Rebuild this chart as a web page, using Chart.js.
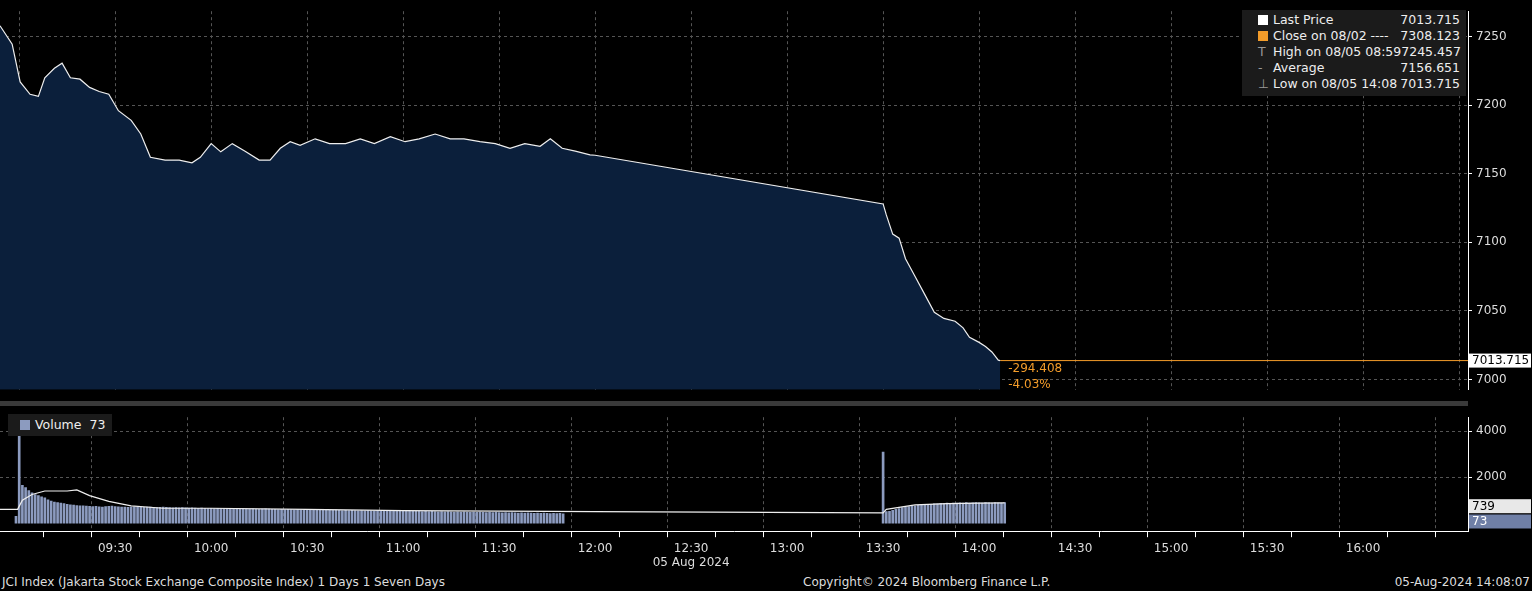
<!DOCTYPE html>
<html><head><meta charset="utf-8">
<script src="https://cdn.jsdelivr.net/npm/chart.js@4.4.1/dist/chart.umd.min.js"></script>
<style>
body{margin:0;background:#000;width:1532px;height:591px;overflow:hidden;font-family:"DejaVu Sans",sans-serif;color:#ddd}
#c1{position:absolute;left:0;top:0}
#c2{position:absolute;left:0;top:406px}
#sep{position:absolute;left:0;top:401px;width:1468px;height:5px;background:#3a3a3a}
.leg{position:absolute;background:#1b1b1b;font-size:12.5px;line-height:16px;color:#eee}
.row{display:flex;justify-content:space-between;white-space:nowrap;padding-right:6px}
.foot{position:absolute;top:575px;font-size:12px;color:#ddd;white-space:nowrap}
.sw{display:inline-block;width:10px;height:10px;margin-right:5px;vertical-align:-1px}
.ic{display:inline-block;width:15px;color:#999}
</style></head><body>
<canvas id="c1" width="1532" height="401"></canvas>
<div id="sep"></div>
<canvas id="c2" width="1532" height="168"></canvas>
<div class="leg" style="left:1242px;top:10px;width:224px;height:86px;padding:2px 0 0 16px;box-sizing:border-box">
<div class="row"><span><span class="sw" style="background:#fff"></span>Last Price</span><span>7013.715</span></div>
<div class="row"><span><span class="sw" style="background:#f39c2a"></span>Close on 08/02 ----</span><span>7308.123</span></div>
<div class="row"><span><span class="ic">T</span>High on 08/05 08:59</span><span>7245.457</span></div>
<div class="row"><span><span class="ic">-</span>Average</span><span>7156.651</span></div>
<div class="row"><span><span class="ic">⊥</span>Low on 08/05 14:08</span><span>7013.715</span></div>
</div>
<div class="leg" style="left:8px;top:414px;width:104px;height:22px;padding:3px 0 0 12px;box-sizing:border-box"><span class="sw" style="background:#8c9bbf"></span>Volume&nbsp;&nbsp;73</div>
<div class="foot" style="left:2px">JCI Index (Jakarta Stock Exchange Composite Index) 1 Days 1 Seven Days</div>
<div class="foot" style="left:803px">Copyright© 2024 Bloomberg Finance L.P.</div>
<div class="foot" style="right:2px">05-Aug-2024 14:08:07</div>
<script>
// minutes from 09:00
const priceMinutes=[-6,-2.2,0.3,3.4,6,8,11,13.4,16,19,22,25,28,31,35,38,41,45.6,50,54,56.6,60,63,66.6,70.6,75,78.4,81.6,84.7,87.8,92.5,97,102,106.6,111,116,120.6,125,130,134.7,139,144,148.8,153.4,158,162.8,166,169.7,173.8,178.4,180,270,271,273,275,277,280,283,286,289,292.5,295,297,300,302,304,306,306.6];
const priceValues=[7258,7244.5,7217,7208,7206.5,7220,7227,7230.7,7220,7219,7213,7210,7208,7196,7189,7179,7162,7160,7160,7158,7162,7172,7166,7172,7166.5,7160,7160,7168.6,7173.4,7170.7,7175.5,7172,7172,7175.5,7172,7177,7173.4,7175.5,7179,7175.5,7175.5,7173.4,7172,7168.6,7172,7170,7175.5,7168.6,7166.5,7163.8,7163.5,7128,7120,7106,7103,7088,7075,7062,7049,7044.5,7042.4,7037.6,7030.7,7027,7024,7020,7014,7013.715];
const lastPrice=7013.715;
const morningVolume=[4450,1650,1550,1420,1320,1250,1200,1150,1100,1020,960,920,900,870,850,820,800,790,770,760,750,740,730,720,730,710,700,720,730,740,
720,710,700,700,690,700,710,700,690,690,700,700,690,680,690,700,690,680,670,680,670,680,670,660,670,660,650,660,650,640,
650,640,650,640,630,640,630,620,630,620,630,620,610,620,610,600,610,620,610,600,600,590,600,590,600,590,580,590,580,590,
580,570,580,570,580,570,560,570,560,570,560,550,560,550,560,550,540,550,540,550,540,530,540,530,540,530,520,530,520,530,
520,510,520,510,520,510,500,510,500,510,500,490,500,490,500,490,480,490,480,490,480,470,480,470,480,470,460,470,460,470,
460,450,460,450,460,450,440,450,440,450,440,430,440,430,440,430,420,430,420,430,410];
const afternoonVolume=[3100,500,520,560,600,640,680,700,720,740,760,780,800,800,820,820,840,840,860,850,870,860,880,870,890,880,900,880,890,900,890,880,900,890,880,900,890,880,900];
const maMinutes=[-6,-0.5,1,4,8,15,18,22,28,35,45,60,90,120,150,180,270,271,280,290,300,308];
const maValues=[600,600,1000,1250,1400,1400,1450,1200,950,750,650,650,600,550,520,500,450,600,800,850,870,880];
const priceTicks=[7000,7050,7100,7150,7200,7250];
const volumeTicks=[2000,4000];

const priceData=priceMinutes.map((m,i)=>({x:m,y:priceValues[i]}));
const volData=morningVolume.map((v,i)=>({x:i,y:v})).concat(afternoonVolume.map((v,i)=>({x:270+i,y:v})));
volData.unshift({x:-1,y:300});
const maData=maMinutes.map((m,i)=>({x:m,y:maValues[i]}));
const XMIN=-6,XMAX=452.8;
const gridCol=c=>(c.tick&&c.tick.value%30===0)?'#555':'rgba(0,0,0,0)';
function fmtTime(v){const t=540+v;const h=Math.floor(t/60),m=t%60;return String(h).padStart(2,'0')+':'+String(m).padStart(2,'0');}
const rightFit=function(s){s.width=64;};
Chart.defaults.font.family='"DejaVu Sans",sans-serif';
Chart.defaults.font.size=12;
Chart.defaults.color='#ddd';
Chart.defaults.animation=false;

const labelPlugin={id:'lbl',afterDraw(ch){
 const o=ch.options.plugins.lbl; if(!o) return;
 const c=ch.ctx; c.save(); c.font='12px "DejaVu Sans"';
 o.items.forEach(it=>{const y=ch.scales.y.getPixelForValue(it.v);
   c.fillStyle=it.bg;c.fillRect(1469,y-7,62,14);c.fillStyle=it.fg;c.textBaseline='middle';c.fillText(it.t,1472,y+0.5);});
 if(o.extra){const last=priceData[priceData.length-1];const x=ch.scales.x.getPixelForValue(last.x)+8;const y=ch.scales.y.getPixelForValue(last.y);
   c.fillStyle='#f39c2a';c.fillText('-294.408',x,y+8);c.fillText('-4.03%',x,y+24);}
 c.restore();}};

new Chart(document.getElementById('c1'),{type:'line',
 data:{datasets:[
  {data:priceData,borderColor:'#eee',borderWidth:1.2,pointRadius:0,fill:'start',backgroundColor:'#0b1f3b',tension:0},
  {data:[{x:priceMinutes[priceMinutes.length-1],y:lastPrice},{x:XMAX,y:lastPrice}],borderColor:'#f39c2a',borderWidth:1,pointRadius:0}
 ]},
 options:{responsive:false,layout:{padding:0},
  plugins:{legend:{display:false},tooltip:{enabled:false},
   lbl:{items:[{v:lastPrice,t:'7013.715',bg:'#fff',fg:'#000'}],extra:true}},
  scales:{
   x:{type:'linear',min:XMIN,max:XMAX,offset:false,ticks:{display:false,padding:0},
      afterBuildTicks:s=>{s.ticks=[];for(let v=0;v<=450;v+=30)s.ticks.push({value:v});},
      afterFit:s=>{s.height=0;},
      grid:{color:'#555',drawTicks:false,tickLength:0},border:{display:false,dash:[3,3]}},
   y:{position:'right',min:6992.4,max:7268.6,afterFit:rightFit,
      afterBuildTicks:s=>{s.ticks=priceTicks.map(v=>({value:v}));},
      ticks:{color:'#ddd',padding:4,callback:v=>String(v)},grid:{color:'#555',tickColor:'#fff',tickLength:4},border:{color:'#fff',dash:[3,3]}}
  }},plugins:[labelPlugin]});

new Chart(document.getElementById('c2'),{
 data:{datasets:[
  {type:'bar',data:volData,backgroundColor:'#8c9bbf',barThickness:2,order:2},
  {type:'line',data:maData,borderColor:'#eee',borderWidth:1.2,pointRadius:0,order:1}
 ]},
 options:{responsive:false,layout:{padding:0},
  plugins:{legend:{display:false},tooltip:{enabled:false},
   lbl:{items:[{v:739,t:'739',bg:'#e8e8e8',fg:'#000'},{v:73,t:'73',bg:'#6f7fa6',fg:'#fff'}]}},
  scales:{
   x:{type:'linear',min:XMIN,max:XMAX,offset:false,
      afterBuildTicks:s=>{s.ticks=[];for(let v=0;v<=450;v+=15)s.ticks.push({value:v});},
      ticks:{color:'#ddd',maxRotation:0,autoSkip:false,padding:4,
        callback:v=>(v%30!==0||v===0||v>420)?'':(v===210?[fmtTime(v),'05 Aug 2024']:fmtTime(v))},
      grid:{color:gridCol,tickColor:'#fff',tickLength:6},border:{color:'#fff',dash:[3,3]}},
   y:{position:'right',min:-350,max:4615,afterFit:rightFit,
      afterBuildTicks:s=>{s.ticks=volumeTicks.map(v=>({value:v}));},
      ticks:{color:'#ddd',padding:4,callback:v=>String(v)},grid:{color:'#555',tickColor:'#fff',tickLength:4},border:{color:'#fff',dash:[3,3]}}
  }},plugins:[labelPlugin]});
</script></body></html>
